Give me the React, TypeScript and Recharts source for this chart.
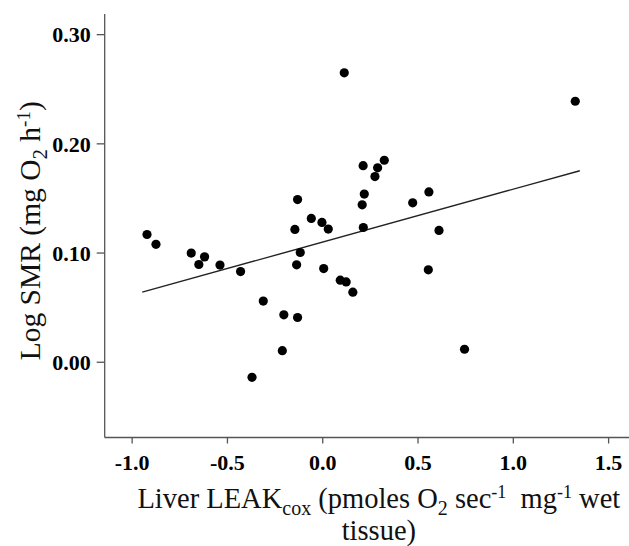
import React from "react";
import {
  ScatterChart,
  Scatter,
  XAxis,
  YAxis,
  ReferenceLine,
  Label,
} from "recharts";

// Liver LEAK_cox values (x) and Log SMR values (y)
const leakValues = [
  -0.922, -0.875, -0.69, -0.62, -0.65, -0.539, -0.431, -0.312, -0.204, -0.132,
  -0.212, -0.371, -0.146, -0.132, -0.118, -0.137, -0.06, -0.004, 0.029, 0.005,
  0.092, 0.123, 0.158, 0.207, 0.213, 0.212, 0.288, 0.274, 0.323, 0.218, 0.113,
  0.472, 0.557, 0.61, 0.554, 0.744, 1.325,
];
const smrValues = [
  0.117, 0.108, 0.1, 0.0965, 0.0895, 0.089, 0.083, 0.056, 0.0434, 0.041,
  0.0106, -0.0138, 0.1216, 0.149, 0.1005, 0.0892, 0.1317, 0.128, 0.122, 0.0858,
  0.0752, 0.0736, 0.0642, 0.1442, 0.1234, 0.18, 0.178, 0.17, 0.185, 0.154, 0.265,
  0.146, 0.156, 0.1207, 0.0846, 0.0119, 0.239,
];

// Regression line end points
const fitX = [-0.947, 1.349];
const fitY = [0.0642, 0.1754];

const xTicks = [-1.0, -0.5, 0.0, 0.5, 1.0, 1.5];
const yTicks = [0.0, 0.1, 0.2, 0.3];

const data = leakValues.map((x, i) => ({ x, y: smrValues[i] }));

const FONT = "'Liberation Serif', 'Times New Roman', serif";
const AXIS_COLOR = "#555";

const Dot = (props: any) => (
  <circle cx={props.cx} cy={props.cy} r={4.6} fill="#000" />
);

const XTitle = (props: any) => {
  const vb = props.viewBox;
  const cx = vb.x + vb.width / 2 + 12;
  const y1 = vb.y + 70.5;
  const y2 = vb.y + 102.5;
  const sub = 7;
  const sup = -10;
  return (
    <g>
      <text
        x={cx}
        y={y1}
        textAnchor="middle"
        fontFamily={FONT}
        fontSize={28.5}
        fill="#111"
        style={{ whiteSpace: "pre" }}
      >
        <tspan>Liver LEAK</tspan>
        <tspan fontSize={20} dy={sub}>cox</tspan>
        <tspan dy={-sub}> (pmoles O</tspan>
        <tspan fontSize={20} dy={sub}>2</tspan>
        <tspan dy={-sub}> sec</tspan>
        <tspan fontSize={18} dy={sup}>-1</tspan>
        <tspan dy={-sup}>{"  mg"}</tspan>
        <tspan fontSize={18} dy={sup}>-1</tspan>
        <tspan dy={-sup}> wet</tspan>
      </text>
      <text
        x={cx}
        y={y2}
        textAnchor="middle"
        fontFamily={FONT}
        fontSize={28.5}
        fill="#111"
      >
        tissue)
      </text>
    </g>
  );
};

const YTitle = (props: any) => {
  const vb = props.viewBox;
  const cx = vb.x + 40;
  const cy = vb.y + vb.height / 2 + 5;
  const sub = 7;
  const sup = -10;
  return (
    <text
      x={cx}
      y={cy}
      transform={`rotate(-90 ${cx} ${cy})`}
      textAnchor="middle"
      fontFamily={FONT}
      fontSize={29.5}
      fill="#111"
    >
      <tspan>Log SMR (mg O</tspan>
      <tspan fontSize={21} dy={sub}>2</tspan>
      <tspan dy={-sub}> h</tspan>
      <tspan fontSize={19} dy={sup}>-1</tspan>
      <tspan dy={-sup}>)</tspan>
    </text>
  );
};

export default function App() {
  return (
    <div style={{ position: "absolute", left: 0, top: 0, background: "#fff" }}>
      <ScatterChart
        width={629}
        height={546}
        margin={{ top: 14, right: 0, bottom: 0, left: 0 }}
      >
        <XAxis
          type="number"
          dataKey="x"
          domain={[-1.144, 1.607]}
          ticks={xTicks}
          tickFormatter={(v: number) => v.toFixed(1)}
          allowDataOverflow
          height={108.5}
          tickSize={6}
          tickMargin={11}
          axisLine={{ stroke: AXIS_COLOR, strokeWidth: 1.3 }}
          tickLine={{ stroke: AXIS_COLOR, strokeWidth: 1.3 }}
          tick={{
            fill: "#000",
            fontFamily: FONT,
            fontSize: 22,
            fontWeight: "bold",
          }}
        >
          <Label content={XTitle} />
        </XAxis>
        <YAxis
          type="number"
          dataKey="y"
          domain={[-0.0689, 0.3189]}
          ticks={yTicks}
          tickFormatter={(v: number) => v.toFixed(2)}
          allowDataOverflow
          width={104.7}
          tickSize={8}
          tickMargin={6}
          axisLine={{ stroke: AXIS_COLOR, strokeWidth: 1.3 }}
          tickLine={{ stroke: AXIS_COLOR, strokeWidth: 1.3 }}
          tick={{
            fill: "#000",
            fontFamily: FONT,
            fontSize: 22,
            fontWeight: "bold",
          }}
        >
          <Label content={YTitle} />
        </YAxis>
        <ReferenceLine
          segment={[
            { x: fitX[0], y: fitY[0] },
            { x: fitX[1], y: fitY[1] },
          ]}
          stroke="#222"
          strokeWidth={1.4}
          ifOverflow="visible"
        />
        <Scatter data={data} shape={Dot} isAnimationActive={false} />
      </ScatterChart>
    </div>
  );
}
